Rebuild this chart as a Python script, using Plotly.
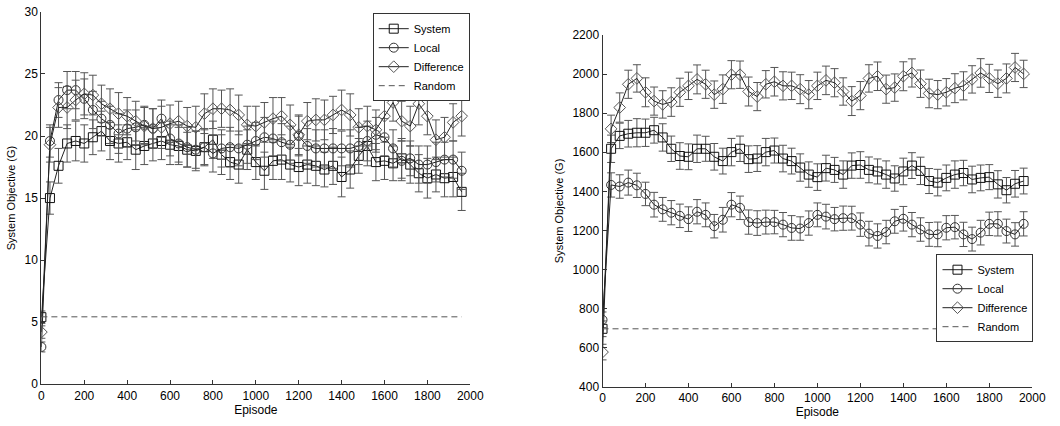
import plotly.graph_objects as go

episodes = [0, 40, 80, 120, 160, 200, 240, 280, 320, 360, 400, 440, 480, 520, 560, 600, 640, 680, 720, 760,
            800, 840, 880, 920, 960, 1000, 1040, 1080, 1120, 1160, 1200, 1240, 1280, 1320, 1360, 1400, 1440, 1480,
            1520, 1560, 1600, 1640, 1680, 1720, 1760, 1800, 1840, 1880, 1920, 1960]

# ---------------- Left panel ----------------
left_system = [5.4, 15.0, 17.6, 19.4, 19.6, 19.4, 19.9, 20.4, 19.6, 19.4, 19.5, 18.9, 19.2, 19.4, 19.6, 19.3,
               19.2, 18.9, 18.8, 19.1, 19.7, 18.5, 17.9, 17.7, 18.9, 17.9, 17.2, 18.0, 18.1, 17.7, 17.5, 17.7,
               17.6, 17.3, 17.6, 16.7, 17.3, 18.4, 19.2, 17.9, 18.0, 17.8, 18.2, 17.7, 17.0, 16.6, 16.9, 16.6,
               16.7, 15.5]
left_system_err = [0.5, 1.3, 1.4, 1.5, 1.6, 1.5, 1.4, 1.6, 1.5, 1.5, 1.4, 1.6, 1.5, 1.4, 1.5, 1.6,
                   1.5, 1.4, 1.6, 1.5, 1.5, 1.6, 1.4, 1.5, 1.6, 1.4, 1.5, 1.5, 1.6, 1.4, 1.5, 1.5,
                   1.6, 1.4, 1.5, 1.6, 1.5, 1.4, 1.6, 1.5, 1.5, 1.4, 1.6, 1.5, 1.5, 1.6, 1.4, 1.5,
                   1.6, 1.5]
left_local = [3.0, 19.6, 22.9, 23.7, 23.7, 23.0, 22.1, 21.4, 20.9, 20.2, 20.6, 20.7, 20.9, 20.6, 21.4, 19.8,
              19.4, 19.1, 18.9, 19.1, 18.6, 19.0, 19.1, 19.0, 19.3, 19.6, 19.9, 19.8, 19.5, 19.3, 20.0, 19.2,
              19.0, 19.0, 19.0, 19.0, 19.0, 19.2, 19.6, 20.1, 19.9, 19.0, 18.0, 18.2, 17.7, 17.7, 17.9, 18.1,
              18.1, 17.2]
left_local_err = [0.4, 1.3, 1.4, 1.5, 1.5, 1.6, 1.5, 1.4, 1.5, 1.6, 1.5, 1.4, 1.5, 1.6, 1.5, 1.4,
                  1.5, 1.6, 1.5, 1.4, 1.5, 1.5, 1.6, 1.4, 1.5, 1.5, 1.6, 1.4, 1.5, 1.5, 1.6, 1.4,
                  1.5, 1.5, 1.6, 1.4, 1.5, 1.5, 1.6, 1.4, 1.5, 1.5, 1.6, 1.4, 1.5, 1.5, 1.6, 1.4,
                  1.5, 1.5]
left_diff = [4.2, 19.3, 22.3, 22.3, 22.9, 23.4, 23.3, 22.6, 22.2, 21.8, 21.6, 21.2, 20.8, 20.6, 20.7, 21.0,
             21.2, 20.8, 20.7, 21.8, 22.2, 22.2, 22.1, 21.7, 20.9, 20.8, 21.1, 21.4, 21.6, 20.9, 20.1, 21.2,
             21.3, 21.3, 21.7, 22.1, 21.7, 20.7, 20.8, 20.5, 21.6, 22.7, 21.2, 20.8, 22.6, 21.6, 19.7, 19.9,
             21.1, 21.6]
left_diff_err = [0.5, 1.4, 1.6, 1.7, 1.6, 1.7, 1.6, 1.5, 1.6, 1.7, 1.5, 1.6, 1.5, 1.6, 1.7, 1.5,
                 1.6, 1.5, 1.7, 1.6, 1.6, 1.5, 1.7, 1.6, 1.5, 1.6, 1.6, 1.7, 1.5, 1.6, 1.6, 1.5,
                 1.7, 1.6, 1.5, 1.6, 1.7, 1.5, 1.6, 1.6, 1.7, 1.5, 1.6, 1.6, 1.7, 1.5, 1.6, 1.6,
                 1.5, 1.6]
left_random = 5.43

# ---------------- Right panel ----------------
right_system = [697, 1618, 1684, 1695, 1700, 1700, 1713, 1676, 1618, 1581, 1577, 1618, 1618, 1577, 1555, 1601,
                1618, 1565, 1568, 1601, 1609, 1568, 1555, 1522, 1486, 1473, 1519, 1510, 1486, 1532, 1535, 1510,
                1502, 1486, 1466, 1502, 1532, 1505, 1453, 1445, 1469, 1486, 1494, 1461, 1469, 1473, 1436, 1406,
                1439, 1453]
right_system_err = [40, 70, 65, 68, 72, 70, 66, 70, 65, 68, 66, 70, 64, 68, 66, 70,
                    65, 68, 66, 70, 64, 68, 66, 70, 65, 68, 66, 64, 70, 65, 68, 66,
                    64, 70, 65, 68, 66, 70, 64, 68, 66, 70, 65, 68, 66, 64, 70, 65,
                    68, 66]
right_local = [743, 1433, 1425, 1445, 1431, 1387, 1332, 1308, 1291, 1275, 1258, 1296, 1280, 1222, 1255, 1332,
               1316, 1243, 1238, 1243, 1243, 1230, 1213, 1210, 1238, 1280, 1271, 1258, 1263, 1263, 1230, 1184,
               1172, 1192, 1247, 1260, 1230, 1205, 1180, 1180, 1214, 1217, 1180, 1156, 1189, 1234, 1234, 1197,
               1180, 1234]
right_local_err = [40, 62, 60, 64, 62, 60, 63, 61, 62, 60, 63, 62, 61, 60, 63, 62,
                   60, 62, 63, 61, 60, 62, 63, 60, 62, 61, 63, 60, 62, 61, 60, 63,
                   62, 60, 61, 63, 62, 60, 61, 63, 62, 60, 62, 61, 63, 60, 62, 61,
                   60, 62]
right_diff = [578, 1720, 1829, 1948, 1978, 1907, 1862, 1845, 1857, 1907, 1940, 1973, 1948, 1895, 1923, 1997,
              1997, 1911, 1885, 1948, 1961, 1940, 1940, 1923, 1895, 1940, 1968, 1956, 1911, 1862, 1890, 1978,
              1989, 1923, 1931, 1989, 2006, 1951, 1901, 1895, 1907, 1928, 1940, 1973, 2006, 1978, 1951, 1978,
              2034, 2001]
right_diff_err = [40, 70, 75, 72, 70, 74, 72, 70, 73, 72, 70, 74, 72, 70, 73, 72,
                  70, 74, 72, 70, 73, 72, 70, 74, 72, 70, 73, 72, 70, 74, 72, 70,
                  73, 72, 70, 74, 72, 70, 73, 72, 70, 74, 72, 70, 73, 72, 70, 74,
                  72, 70]
right_random = 697

x_ticks = [0, 200, 400, 600, 800, 1000, 1200, 1400, 1600, 1800, 2000]
left_y_ticks = [0, 5, 10, 15, 20, 25, 30]
right_y_ticks = [400, 600, 800, 1000, 1200, 1400, 1600, 1800, 2000, 2200]

FONT = "Liberation Sans, Arial, sans-serif"
ERR_COLOR = "#555555"

series_style = [
    ("System", "square-open", "#111111"),
    ("Local", "circle-open", "#333333"),
    ("Difference", "diamond-open", "#555555"),
]

fig = go.Figure()


def add_panel(xa, ya, legend, values, errs, rand_val):
    for (name, sym, col), y, e in zip(series_style, values, errs):
        fig.add_trace(go.Scatter(
            x=episodes, y=y, name=name, mode="lines+markers",
            xaxis=xa, yaxis=ya, legend=legend,
            line=dict(color="#222222", width=1),
            marker=dict(symbol=sym, size=9, color=col, line=dict(width=1, color=col)),
            error_y=dict(type="data", array=e, visible=True, color=ERR_COLOR, thickness=1, width=4),
        ))
    fig.add_trace(go.Scatter(
        x=[episodes[0], episodes[-1]], y=[rand_val, rand_val], name="Random", mode="lines",
        xaxis=xa, yaxis=ya, legend=legend,
        line=dict(color="#555555", width=1, dash="6px,4px"),
    ))


add_panel("x", "y", "legend", [left_system, left_local, left_diff],
          [left_system_err, left_local_err, left_diff_err], left_random)
add_panel("x2", "y2", "legend2", [right_system, right_local, right_diff],
          [right_system_err, right_local_err, right_diff_err], right_random)

axis_common = dict(
    showgrid=False, zeroline=False, showline=True, linecolor="#333333", linewidth=1,
    ticks="inside", ticklen=4, tickcolor="#333333", mirror=False,
    tickfont=dict(family=FONT, size=12, color="black"),
)

fig.update_layout(
    width=1060, height=426,
    margin=dict(l=0, r=0, t=0, b=0),
    paper_bgcolor="white", plot_bgcolor="white",
    font=dict(family=FONT, size=12, color="black"),
    showlegend=True,
    xaxis=dict(domain=[0.0368, 0.448], range=[0, 2000], tickvals=x_ticks, anchor="y",
               title=dict(text="Episode", standoff=2, font=dict(size=12)), **axis_common),
    yaxis=dict(domain=[0.0845, 0.988], range=[0, 30], tickvals=left_y_ticks, anchor="x",
               title=dict(text="System Objective (G)", standoff=6, font=dict(size=11)), **axis_common),
    xaxis2=dict(domain=[0.5748, 0.9868], range=[0, 2000], tickvals=x_ticks, anchor="y2",
                title=dict(text="Episode", standoff=2, font=dict(size=12)), **axis_common),
    yaxis2=dict(domain=[0.078, 0.932], range=[400, 2200], tickvals=right_y_ticks, anchor="x2",
                title=dict(text="System Objective (G)", standoff=6, font=dict(size=11)), **axis_common),
    legend=dict(x=0.3545, y=0.985, xanchor="left", yanchor="top", bgcolor="white",
                bordercolor="#333333", borderwidth=1, font=dict(family=FONT, size=11),
                tracegroupgap=0, itemwidth=30),
    legend2=dict(x=0.895, y=0.40, xanchor="left", yanchor="top", bgcolor="white",
                 bordercolor="#333333", borderwidth=1, font=dict(family=FONT, size=11),
                 tracegroupgap=0, itemwidth=30),
)

fig.write_html("out.html")
